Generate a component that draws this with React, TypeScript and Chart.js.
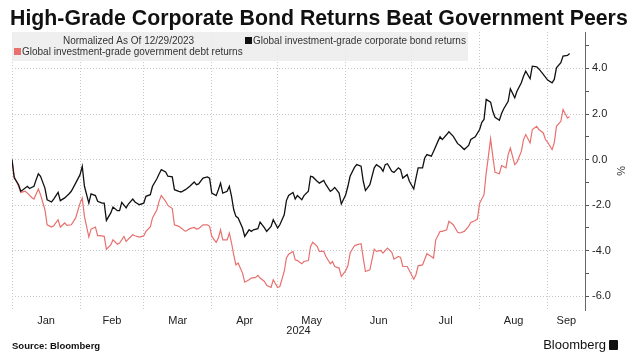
import React, { useEffect, useRef } from 'react';
import { Chart, registerables } from 'chart.js';

Chart.register(...registerables);

// ---- Data (days since Jan 1, 2024; values are % returns normalized as of 12/29/2023) ----
const corpDays = [0,1,3,4,5,7,8,10,11,12,13,15,16,18,19,21,22,24,26,27,29,31,32,33,35,36,38,39,41,42,43,45,46,48,49,50,52,53,55,56,58,60,61,63,64,66,67,68,70,71,73,74,76,77,79,81,83,84,85,87,89,90,91,93,94,95,96,98,99,100,101,102,103,105,106,108,109,110,112,113,115,116,118,119,121,122,124,125,126,128,129,130,132,133,135,136,137,139,140,142,143,145,146,147,149,150,152,153,154,156,157,159,160,161,163,165,166,168,169,170,171,173,174,176,177,178,180,181,183,184,185,187,188,189,191,192,194,195,196,198,199,201,203,204,206,208,209,211,213,214,215,216,218,219,220,222,223,224,226,227,229,230,232,233,234,236,237,239,240,242,244,246,247,248,250,251,253,254];
const corpReturns = [0,-0.80,-1.10,-1.39,-1.32,-1.17,-1.27,-1.17,-0.88,-0.62,-0.73,-1.25,-1.76,-1.86,-1.73,-1.44,-1.80,-1.68,-1.50,-1.39,-1.03,-0.66,-0.29,-1.17,-1.91,-1.50,-1.58,-1.83,-1.91,-1.91,-2.67,-2.34,-2.08,-2.24,-2.24,-1.88,-2.12,-1.95,-1.73,-1.86,-1.98,-1.91,-1.61,-1.54,-1.17,-0.84,-0.63,-0.44,-0.54,-0.73,-0.76,-1.32,-1.39,-1.42,-1.32,-1.17,-0.98,-1.10,-1.07,-0.81,-0.76,-0.81,-1.47,-1.58,-1.32,-1.03,-1.47,-1.39,-1.17,-1.61,-2.20,-2.49,-2.56,-3.00,-3.37,-3.08,-3.15,-3.08,-3.03,-2.74,-3.00,-3.15,-2.93,-2.64,-3.00,-2.86,-2.42,-1.80,-1.57,-1.44,-1.73,-1.58,-1.76,-1.58,-1.39,-0.73,-0.76,-0.95,-1.03,-0.91,-1.10,-1.39,-1.32,-1.22,-1.47,-1.95,-1.54,-1.17,-0.73,-0.34,-0.22,-0.29,-0.95,-1.36,-1.10,-0.36,-0.22,-0.36,-0.51,-0.22,-0.18,-0.51,-0.56,-0.36,-0.44,-0.81,-0.66,-0.95,-1.29,-0.81,-0.36,-0.36,0.07,0.22,0.15,0.36,0.80,1.00,0.88,1.10,1.22,1.02,0.70,0.63,0.44,0.62,0.88,1.00,1.32,1.64,1.76,2.64,2.52,2.12,1.86,1.73,2.02,2.23,2.56,3.11,2.71,3.00,3.37,3.66,3.88,3.55,4.10,4.07,3.98,3.74,3.49,3.37,3.52,4.03,4.25,4.54,4.57,4.66];

const govDays = [0,1,3,4,6,7,9,10,12,13,15,16,18,19,21,22,24,25,27,28,29,31,32,33,35,36,38,39,40,42,43,45,46,48,49,51,52,53,55,56,58,60,61,63,64,66,67,68,70,71,73,74,76,77,79,81,83,84,85,87,89,90,91,93,94,95,96,98,99,100,101,102,103,105,106,108,109,111,112,113,115,116,118,119,121,122,124,125,126,128,129,130,132,133,135,136,137,139,140,142,143,145,146,147,149,150,152,153,154,156,157,159,160,161,163,165,166,168,169,170,171,173,174,176,177,178,180,181,183,184,185,187,188,189,191,192,193,195,196,198,199,201,203,204,206,208,209,211,212,213,215,216,217,218,219,220,222,223,225,226,227,229,230,232,233,234,236,237,239,240,242,243,244,246,247,248,250,251,253,254];
const govReturns = [0,-0.73,-1.17,-1.44,-1.39,-1.47,-1.66,-1.73,-1.29,-1.54,-2.20,-2.86,-2.96,-2.90,-2.64,-2.96,-2.78,-2.89,-2.86,-2.71,-2.56,-1.91,-1.69,-2.49,-3.40,-3.05,-2.96,-3.34,-3.34,-3.37,-3.93,-3.74,-3.52,-3.71,-3.66,-3.37,-3.59,-3.49,-3.30,-3.34,-3.40,-3.35,-3.15,-2.95,-2.56,-2.20,-1.83,-1.57,-1.83,-2.01,-2.15,-2.86,-2.93,-3.00,-3.15,-3.03,-2.98,-3.05,-3.03,-2.86,-2.86,-2.93,-3.37,-3.63,-3.44,-3.08,-3.52,-3.52,-3.22,-3.66,-4.18,-4.62,-4.54,-4.98,-5.38,-5.27,-5.20,-5.17,-5.08,-5.20,-5.35,-5.52,-5.61,-5.27,-5.61,-5.57,-4.91,-4.32,-4.15,-4.03,-4.40,-4.43,-4.57,-4.47,-4.43,-3.81,-3.63,-3.81,-4.03,-4.03,-4.25,-4.57,-4.47,-4.69,-4.76,-5.13,-4.87,-4.66,-4.10,-3.78,-3.74,-3.69,-4.32,-4.91,-4.84,-3.93,-4.03,-3.99,-4.10,-3.99,-3.88,-4.07,-4.37,-4.25,-4.29,-4.69,-4.69,-4.87,-5.25,-5.05,-4.66,-4.62,-4.37,-4.13,-4.25,-4.32,-3.52,-3.15,-3.15,-3.08,-2.71,-2.86,-3.19,-3.22,-3.15,-2.93,-2.76,-2.67,-2.61,-1.91,-1.54,-0.59,0.15,0.91,0.15,-0.56,-0.62,-0.26,-0.36,0.22,0.51,-0.22,-0.12,0.36,0.88,1.10,0.73,1.32,1.46,1.32,1.17,0.88,0.76,0.44,0.73,1.46,1.68,2.20,1.83,1.88];

const monthLabels = ['Jan', 'Feb', 'Mar', 'Apr', 'May', 'Jun', 'Jul', 'Aug', 'Sep'];
const monthStartDays = [0, 31, 60, 91, 121, 152, 182, 213, 244];
const axisEndDay = 261;
const yearLabel = '2024';
const yTickValues = [-6, -5, -4, -3, -2, -1, 0, 1, 2, 3, 4, 5];
const yMin = -6.6;
const yMax = 5.6;

const titleText = 'High-Grade Corporate Bond Returns Beat Government Peers';
const noteText = 'Normalized As Of 12/29/2023';
const corpLabel = 'Global investment-grade corporate bond returns';
const govLabel = 'Global investment-grade government debt returns';
const sourceText = 'Source: Bloomberg';

const CORP_COLOR = '#111111';
const GOV_COLOR = '#e8716f';
const GRID_COLOR = '#c9c9c9';
const FONT = '"Liberation Sans", Arial, sans-serif';

const monthMidDays = monthStartDays.map((d, i) => {
  const next = i + 1 < monthStartDays.length ? monthStartDays[i + 1] : axisEndDay;
  return (d + next) / 2;
});

function fitFontSize(text: string, weight: string, family: string, target: number): number {
  const c = document.createElement('canvas').getContext('2d');
  if (!c) return 20;
  c.font = `${weight} 100px ${family}`;
  const w = c.measureText(text).width;
  return (100 * target) / w;
}

const legendPlugin = {
  id: 'bbgLegend',
  beforeDatasetsDraw(chart: any) {
    const { ctx, chartArea } = chart;
    const l = chartArea.left;
    const t = chartArea.top;
    ctx.save();
    ctx.fillStyle = 'rgba(236,236,236,0.85)';
    ctx.fillRect(l, t, 456, 29);
    ctx.font = `10px ${FONT}`;
    ctx.textBaseline = 'middle';
    ctx.textAlign = 'left';
    ctx.fillStyle = '#333';
    ctx.fillText(noteText, l + 51, t + 9);
    ctx.fillStyle = CORP_COLOR;
    ctx.fillRect(l + 233, t + 5, 7, 7);
    ctx.fillStyle = '#333';
    ctx.fillText(corpLabel, l + 241, t + 9);
    ctx.fillStyle = GOV_COLOR;
    ctx.fillRect(l + 2, t + 16, 7, 7);
    ctx.fillStyle = '#333';
    ctx.fillText(govLabel, l + 10, t + 20);
    ctx.restore();
  },
};

function BondChart() {
  const ref = useRef<HTMLCanvasElement | null>(null);
  useEffect(() => {
    if (!ref.current) return;
    const chart = new Chart(ref.current, {
      type: 'line',
      data: {
        datasets: [
          {
            label: corpLabel,
            data: corpDays.map((d, i) => ({ x: d, y: corpReturns[i] })),
            borderColor: CORP_COLOR,
            borderWidth: 1.3,
            pointRadius: 0,
            tension: 0,
            fill: false,
          },
          {
            label: govLabel,
            data: govDays.map((d, i) => ({ x: d, y: govReturns[i] })),
            borderColor: GOV_COLOR,
            borderWidth: 1.2,
            pointRadius: 0,
            tension: 0,
            fill: false,
          },
        ],
      },
      options: {
        animation: false,
        responsive: false,
        maintainAspectRatio: false,
        layout: { padding: { left: 12, top: 32, right: 0, bottom: 0 } },
        plugins: {
          legend: { display: false },
          tooltip: { enabled: false },
        },
        scales: {
          x: {
            type: 'linear',
            min: 0,
            max: axisEndDay,
            afterBuildTicks: (scale: any) => {
              const vals = [...monthStartDays, ...monthMidDays].sort((a, b) => a - b);
              scale.ticks = vals.map((v) => ({ value: v }));
            },
            afterFit: (scale: any) => {
              scale.height = 50;
            },
            ticks: {
              autoSkip: false,
              maxRotation: 0,
              minRotation: 0,
              padding: 4,
              color: '#222',
              font: { family: FONT, size: 11 },
              callback: (value: any) => {
                const idx = monthMidDays.indexOf(Number(value));
                return idx >= 0 ? monthLabels[idx] : '';
              },
            },
            grid: {
              color: (ctx: any) =>
                ctx.tick && monthStartDays.includes(ctx.tick.value) ? GRID_COLOR : 'rgba(0,0,0,0)',
              drawTicks: false,
              lineWidth: 1,
            },
            border: { display: false, dash: [1, 2] },
            title: {
              display: true,
              text: yearLabel,
              color: '#222',
              font: { family: FONT, size: 11 },
              padding: { top: 0, bottom: 22 },
            },
          },
          y: {
            position: 'right',
            min: yMin,
            max: yMax,
            afterBuildTicks: (scale: any) => {
              scale.ticks = yTickValues.map((v) => ({ value: v }));
            },
            afterFit: (scale: any) => {
              scale.width = 49;
            },
            ticks: {
              padding: 3,
              color: '#222',
              font: { family: FONT, size: 11 },
              callback: (value: any) => (Number(value) % 2 === 0 ? Number(value).toFixed(1) : ''),
            },
            grid: {
              color: (ctx: any) =>
                ctx.tick && ctx.tick.value % 2 === 0 ? GRID_COLOR : 'rgba(0,0,0,0)',
              tickColor: '#555',
              tickLength: 4,
              tickBorderDash: [],
              lineWidth: 1,
            },
            border: { display: true, color: '#666', width: 1, dash: [1, 2] },
            title: {
              display: true,
              text: '%',
              color: '#333',
              font: { family: FONT, size: 11 },
              padding: { top: 7, bottom: 0 },
            },
          },
        },
      },
      plugins: [legendPlugin],
    } as any);
    return () => chart.destroy();
  }, []);
  return <canvas ref={ref} width={634} height={360} style={{ width: 634, height: 360, display: 'block' }} />;
}

export default function App() {
  const titleSize = fitFontSize(titleText, 'bold', FONT, 618);
  return (
    <div style={{ position: 'fixed', left: 0, top: 0, width: 634, height: 360, background: '#fff', overflow: 'hidden' }}>
      <BondChart />
      <div
        style={{
          position: 'absolute',
          left: 10,
          top: 8,
          fontFamily: FONT,
          fontWeight: 'bold',
          fontSize: titleSize,
          lineHeight: 1,
          color: '#111',
          whiteSpace: 'nowrap',
        }}
      >
        {titleText}
      </div>
      <div
        style={{
          position: 'absolute',
          left: 12,
          top: 340,
          fontFamily: FONT,
          fontWeight: 'bold',
          fontSize: 9.5,
          lineHeight: '12px',
          color: '#111',
          whiteSpace: 'nowrap',
        }}
      >
        {sourceText}
      </div>
      <div
        style={{
          position: 'absolute',
          right: 16,
          top: 337,
          fontFamily: FONT,
          fontSize: 13,
          lineHeight: '16px',
          color: '#111',
          whiteSpace: 'nowrap',
          display: 'flex',
          alignItems: 'center',
          gap: 3,
        }}
      >
        <span>Bloomberg</span>
        <span
          style={{
            display: 'inline-block',
            width: 9,
            height: 10,
            background: '#111',
            borderRadius: 1,
          }}
        />
      </div>
    </div>
  );
}
